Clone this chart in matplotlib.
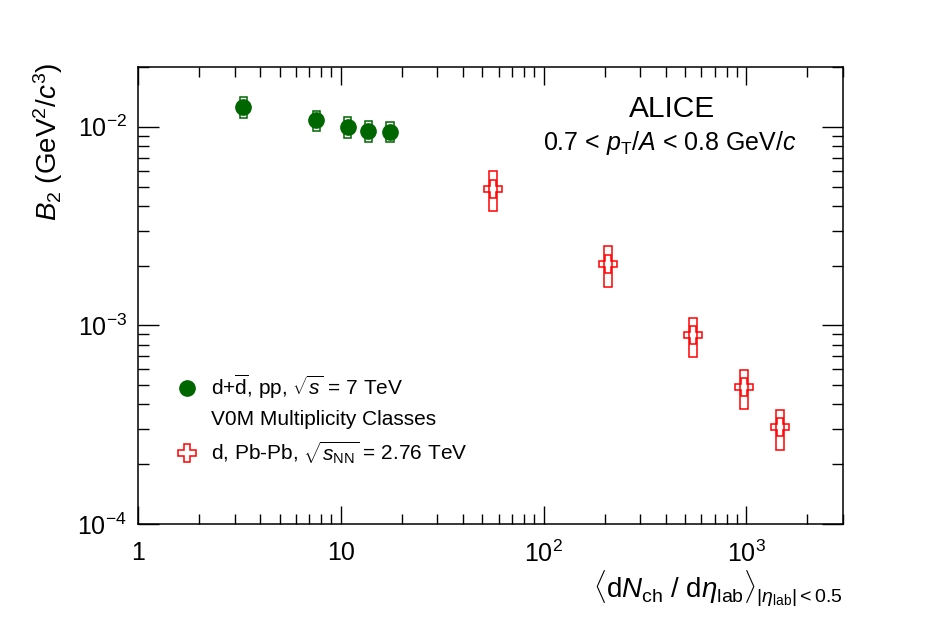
import numpy as np
import matplotlib
matplotlib.use("Agg")
from matplotlib import pyplot as plt
from matplotlib.patches import Rectangle
from matplotlib.lines import Line2D
from matplotlib.ticker import LogLocator, FuncFormatter, NullFormatter

plt.rcParams['font.family'] = ['Liberation Sans', 'DejaVu Sans']
plt.rcParams['mathtext.fontset'] = 'custom'
plt.rcParams['mathtext.rm'] = 'Liberation Sans'
plt.rcParams['mathtext.it'] = 'Liberation Sans:italic'
plt.rcParams['mathtext.bf'] = 'Liberation Sans:bold'

# ==============================================================
#  DATA
# ==============================================================

# pp 7 TeV, V0M multiplicity classes
pp_mult = [3.30, 7.57, 10.8, 13.7, 17.5]
pp_b2 = [0.01257, 0.01081, 0.00996, 0.00950, 0.00944]
pp_sys = [0.00155, 0.00125, 0.00120, 0.00115, 0.00110]

# Pb-Pb 2.76 TeV
pbpb_mult = [56.2, 207.7, 546.0, 975.0, 1469.0]
pbpb_b2 = [4.86e-3, 2.03e-3, 8.93e-4, 4.88e-4, 3.07e-4]
pbpb_sys = [1.10e-3, 0.47e-3, 2.0e-4, 1.1e-4, 0.7e-4]

green = '#006600'
red = '#ff0000'

fig = plt.figure(figsize=(9.46, 6.22), dpi=100)
ax = fig.add_axes([0.1459, 0.1576, 0.7452, 0.7347])
ax.set_xscale('log')
ax.set_yscale('log')
ax.set_xlim(1, 3000)
ax.set_ylim(1e-4, 2e-2)


def sys_boxes(xs, ys, es, color, half_w):
    # systematic boxes, constant width on the log axis
    for x, y, e in zip(xs, ys, es):
        x0 = x / 10 ** half_w
        ax.add_patch(Rectangle((x0, y - e), x * 10 ** half_w - x0, 2 * e,
                               fill=False, edgecolor=color, lw=1.1, zorder=3))


sys_boxes(pp_mult, pp_b2, pp_sys, green, 0.0175)
sys_boxes(pbpb_mult, pbpb_b2, pbpb_sys, red, 0.021)

ax.plot(pp_mult, pp_b2, 'o', color=green, ms=11, zorder=4)
ax.plot(pbpb_mult, pbpb_b2, 'P', mfc='none', mec=red, mew=1.1, ms=13, zorder=4)

# axes / ticks, ROOT style
for s in ax.spines.values():
    s.set_linewidth(1.1)
ax.tick_params(which='both', direction='in', top=True, right=True, width=1.0)
ax.tick_params(axis='x', which='major', length=13, labelsize=18, pad=12)
ax.tick_params(axis='x', which='minor', length=7)
ax.tick_params(axis='y', which='major', length=15, labelsize=18, pad=8)
ax.tick_params(axis='y', which='minor', length=8)

ax.xaxis.set_major_locator(LogLocator(base=10, numticks=10))
ax.xaxis.set_minor_locator(LogLocator(base=10, subs=np.arange(2, 10), numticks=20))
ax.yaxis.set_major_locator(LogLocator(base=10, numticks=10))
ax.yaxis.set_minor_locator(LogLocator(base=10, subs=np.arange(2, 10), numticks=20))
ax.xaxis.set_minor_formatter(NullFormatter())
ax.yaxis.set_minor_formatter(NullFormatter())


def xfmt(v, pos):
    e = int(round(np.log10(v)))
    if e == 0:
        return '1'
    if e == 1:
        return '10'
    return r'$10^{%d}$' % e


def yfmt(v, pos):
    e = int(round(np.log10(v)))
    return r'$10^{%d}$' % e


ax.xaxis.set_major_formatter(FuncFormatter(xfmt))
ax.yaxis.set_major_formatter(FuncFormatter(yfmt))

# axis titles
fig.text(0.051, 0.899, r'$B_2$ (GeV$^2$/$c^3$)', rotation=90,
         ha='center', va='top', fontsize=20)
fig.text(0.891, 0.085,
         r'$\langle$d$N_{\rm ch}$ / d$\eta_{\rm lab}\rangle_{|\eta_{\rm lab}| < 0.5}$',
         ha='right', va='top', fontsize=20)

ax.text(0.757, 0.908, 'ALICE', transform=ax.transAxes, ha='center',
        va='center', fontsize=21.5)
ax.text(0.755, 0.834, r'0.7 < $p_{\rm T}$/$A$ < 0.8 GeV/$c$',
        transform=ax.transAxes, ha='center', va='center', fontsize=18)

handles = [
    Line2D([], [], ls='none', marker='o', color=green, ms=11),
    Line2D([], [], ls='none'),
    Line2D([], [], ls='none', marker='P', mfc='none', mec=red, mew=1.1, ms=13),
]
labels = [
    r'd+$\overline{\rm d}$, pp, $\sqrt{s}$ = 7 TeV',
    'V0M Multiplicity Classes',
    r'd, Pb-Pb, $\sqrt{s_{\rm NN}}$ = 2.76 TeV',
]
ax.legend(handles, labels, loc='center left', bbox_to_anchor=(0.056, 0.229),
          frameon=False, fontsize=15, borderpad=0, handlelength=0.95,
          handletextpad=0.65, labelspacing=0.45, borderaxespad=0)

fig.savefig('out.png', dpi=100)
